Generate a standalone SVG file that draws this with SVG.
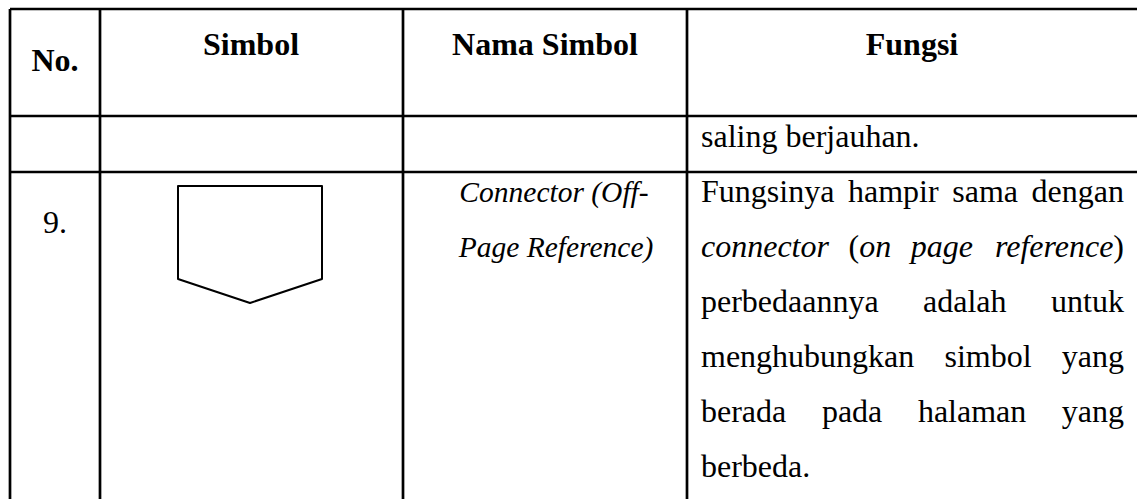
<svg xmlns="http://www.w3.org/2000/svg" width="1137" height="499" viewBox="0 0 1137 499" font-family="'Liberation Serif', Tinos, 'Times New Roman', Times, 'DejaVu Serif', serif">
<style>
.grid{stroke:#000;stroke-width:2.7;fill:none}
.sym{stroke:#000;stroke-width:2;fill:#fff;stroke-linejoin:round}
text{fill:#000;font-size:32px}
.h{font-weight:bold;text-anchor:middle}
.it{font-style:italic}
.end{text-anchor:end}
.name{font-style:italic;font-size:29.5px;text-anchor:middle}
</style>
<rect width="1137" height="499" fill="#fff"/>
<g id="table-grid" class="grid">
<line x1="10" y1="9" x2="1137" y2="9"/>
<line x1="10" y1="116" x2="1137" y2="116"/>
<line x1="10" y1="172" x2="1137" y2="172"/>
<line x1="10" y1="9" x2="10" y2="499"/>
<line x1="100" y1="9" x2="100" y2="499"/>
<line x1="403" y1="9" x2="403" y2="499"/>
<line x1="687" y1="9" x2="687" y2="499"/>
</g>
<g id="header">
<text class="h" x="55" y="71">No.</text>
<text class="h" x="251" y="55">Simbol</text>
<text class="h" x="545" y="55">Nama Simbol</text>
<text class="h" x="912" y="55">Fungsi</text>
</g>
<g id="row-continued">
<text x="701" y="147">saling berjauhan.</text>
</g>
<g id="row-9">
<text x="55" y="233" text-anchor="middle">9.</text>
<g id="symbol-offpage">
<polygon class="sym" points="178,186 322,186 322,279 250,303 178,279"/>
</g>
<text class="name" x="554" y="202">Connector (Off-</text>
<text class="name" x="556" y="257">Page Reference)</text>
<g id="fungsi">
<text y="202"><tspan x="701">Fungsinya</tspan><tspan x="848">hampir</tspan><tspan x="952.3">sama</tspan></text>
<text class="end" x="1124" y="202">dengan</text>
<text y="257"><tspan x="701" class="it">connector</tspan><tspan x="848.5">(</tspan><tspan class="it">on</tspan><tspan x="910.7" class="it">page</tspan></text>
<text class="end" x="1124" y="257"><tspan class="it">reference</tspan>)</text>
<text y="312"><tspan x="701">perbedaannya</tspan><tspan x="923">adalah</tspan></text>
<text class="end" x="1124" y="312">untuk</text>
<text y="367"><tspan x="701">menghubungkan</tspan><tspan x="944.5">simbol</tspan></text>
<text class="end" x="1124" y="367">yang</text>
<text y="422"><tspan x="701">berada</tspan><tspan x="821.9">pada</tspan><tspan x="917.9">halaman</tspan></text>
<text class="end" x="1124" y="422">yang</text>
<text x="701" y="477">berbeda.</text>
</g>
</g>
</svg>
